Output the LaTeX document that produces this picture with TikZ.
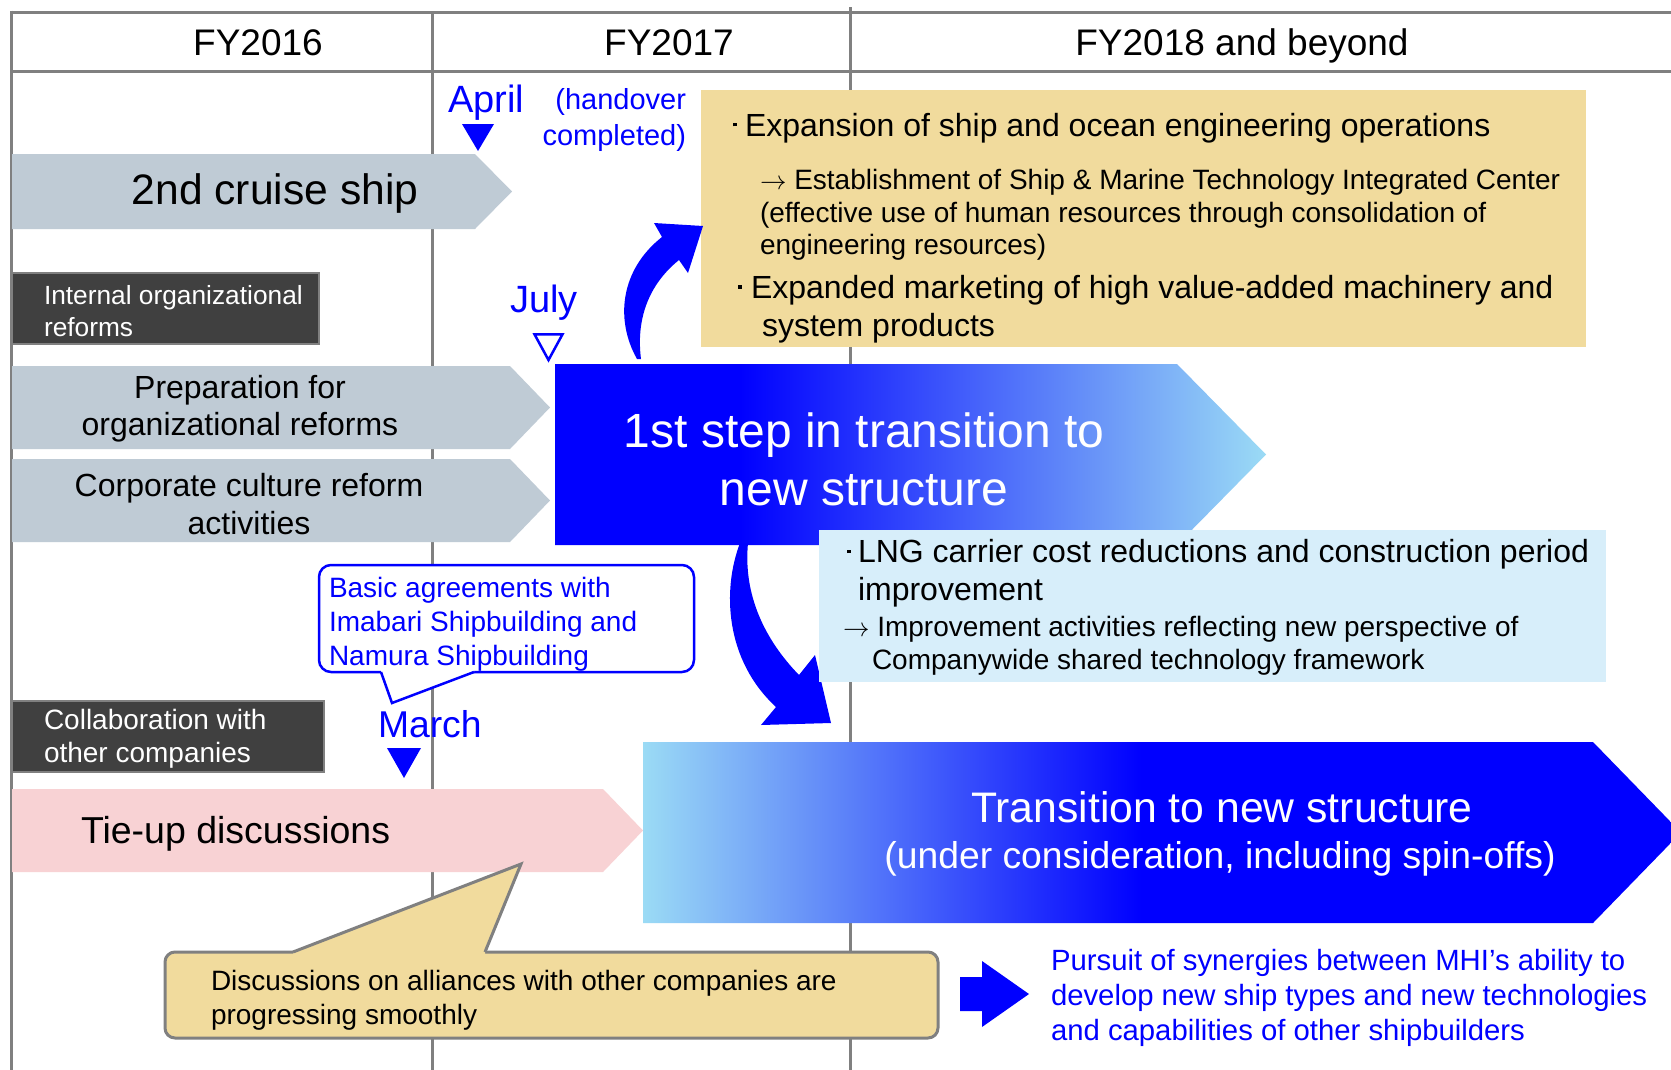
\documentclass[tikz,border=0pt]{standalone}
\usepackage{fontspec}
\setmainfont{Liberation Sans}
\definecolor{gridgray}{HTML}{808080}
\definecolor{graybar}{HTML}{BFCBD5}
\definecolor{boxdark}{HTML}{404040}
\definecolor{sand}{HTML}{F1DB9D}
\definecolor{pinkbar}{HTML}{F8D2D4}
\definecolor{paleblue}{HTML}{D7EEFA}
\definecolor{lb}{HTML}{9BDBF5}
\pgfdeclarehorizontalshading{stepshade}{100bp}{color(0bp)=(blue); color(25bp)=(blue); color(38bp)=(blue); color(75bp)=(lb); color(100bp)=(lb)}
\pgfdeclarehorizontalshading{transshade}{100bp}{color(0bp)=(lb); color(25bp)=(lb); color(49bp)=(blue); color(100bp)=(blue)}
\newcommand{\mysqdot}{\rule[0.3em]{3.5pt}{3.5pt}}
\newcommand{\fsz}[2]{\fontsize{#1}{#2}\selectfont}
\newcommand{\myarr}{\scalebox{2.65}{\fontsize{10}{12}\selectfont$\rightarrow$}}
\begin{document}
\begin{tikzpicture}[x=1pt,y=-1pt,
  tx/.style={inner sep=0pt,outer sep=0pt},
  gridline/.style={draw=gridgray,line width=3pt},
  darkbox/.style={fill=boxdark,draw=gridgray,line width=1.5pt},
  wtxt/.style={tx,text=white},
  btxt/.style={tx,text=blue}]
\useasboundingbox (0,0) rectangle (1671,1069);
\clip (0,0) rectangle (1671,1069);
\fill[white] (0,0) rectangle (1671,1069);
% grid
\draw[gridline] (11,12) -- (1680,12);
\draw[gridline] (11,71) -- (1680,71);
\draw[gridline] (11,10.5) -- (11,1080);
\draw[gridline] (432,12) -- (432,1080);
\draw[gridline] (850,7) -- (850,1080);
% headers
\node[tx,anchor=base,font=\fsz{37}{44}] (hA) at (258,55) {FY2016};
\node[tx,anchor=base,font=\fsz{37}{44}] (hB) at (669,55) {FY2017};
\node[tx,anchor=base,font=\fsz{37}{44}] (hC) at (1242,55) {FY2018 and beyond};
% 2nd cruise ship
\fill[graybar] (12,154) -- (475,154) -- (512,191.5) -- (475,229) -- (12,229) -- cycle;
\node[tx,anchor=base,font=\fsz{42.6}{50}] (cruise) at (275,204) {2nd cruise ship};
% April
\node[btxt,anchor=base west,font=\fsz{38}{45}] (april) at (448,112) {April};
\fill[blue] (462,124) -- (494,124) -- (478,151) -- cycle;
\node[btxt,anchor=east,align=right,font=\fsz{29}{36}] (handover) at (686,120) {(handover\\completed)};
% yellow box
\fill[sand] (701,90) rectangle (1586,347);
\node[tx,anchor=base west,font=\fsz{32}{38}] (ya) at (733,136) {\makebox[12pt][l]{\mysqdot}Expansion of ship and ocean engineering operations};
\node[tx,anchor=west,align=left,font=\fsz{28}{32.5}] (yb) at (760,215) {\myarr{} Establishment of Ship \& Marine Technology Integrated Center\\(effective use of human resources through consolidation of\\engineering resources)};
\node[tx,anchor=west,align=left,font=\fsz{32}{38}] (yc) at (738,309) {\makebox[13pt][l]{\mysqdot}Expanded marketing of high value-added machinery and\\\hspace*{24pt}system products};
% internal org
\draw[darkbox] (12,273) rectangle (319,344);
\node[wtxt,anchor=west,align=left,font=\fsz{26.3}{32}] (intorg) at (44,311.5) {Internal organizational\\reforms};
% July
\node[btxt,anchor=base west,font=\fsz{38}{45}] (july) at (510,312) {July};
\draw[blue,line width=2.5pt,fill=white,line join=miter] (534.5,334.3) -- (562.5,334.3) -- (548.5,360) -- cycle;
% grey bars
\fill[graybar] (12,366) -- (510,366) -- (550,407.5) -- (510,449) -- (12,449) -- cycle;
\node[tx,align=center,font=\fsz{32}{37}] (prep) at (240,408.5) {Preparation for\\organizational reforms};
\fill[graybar] (12,459) -- (510,459) -- (550,500.5) -- (510,542) -- (12,542) -- cycle;
\node[tx,align=center,font=\fsz{32}{38}] (culture) at (249,504.5) {Corporate culture reform\\activities};
% first step
\shade[shading=stepshade] (555,364) -- (1177,364) -- (1266,454.5) -- (1177,545) -- (555,545) -- cycle;
\node[wtxt,align=center,font=\fsz{48}{58}] (step1) at (864,459) {1st step in transition to\\new structure};
% curved arrows
\fill[blue] (637,359) .. controls (615,320) and (620,270) .. (662,237) -- (654,223) -- (703,226) -- (688,273) -- (679,260) .. controls (648,285) and (636,320) .. (641,359) -- cycle;
\fill[blue] (740,543) .. controls (722,590) and (725,660) .. (776,707) -- (761,725) -- (831,723) -- (815,655) -- (799,675) .. controls (765,640) and (743,595) .. (748,543) -- cycle;
% LNG box
\fill[paleblue] (819,530) rectangle (1606,682);
\node[tx,anchor=west,align=left,font=\fsz{32}{38}] (lnga) at (847,573.5) {\makebox[11pt][l]{\mysqdot}LNG carrier cost reductions and construction period\\\hspace*{11pt}improvement};
\node[tx,anchor=west,align=left,font=\fsz{28}{33}] (lngb) at (843,646) {\myarr{} Improvement activities reflecting new perspective of\\\hspace*{29pt}Companywide shared technology framework};
% blue callout
\draw[blue,line width=2.5pt,fill=white,rounded corners=12pt] (319,565) rectangle (694,672);
\fill[white] (381,668) -- (474,668) -- (474,672) -- (392,703) -- (381,672) -- cycle;
\draw[blue,line width=2.5pt] (381,672) -- (392,703) -- (474,672);
\node[btxt,anchor=west,align=left,font=\fsz{28}{34}] (agree) at (329,624) {Basic agreements with\\Imabari Shipbuilding and\\Namura Shipbuilding};
% March
\node[btxt,anchor=base west,font=\fsz{37.3}{44}] (march) at (378,737) {March};
\fill[blue] (387,748) -- (421,748) -- (404,778) -- cycle;
% collaboration box
\draw[darkbox] (12,701) rectangle (324,772);
\node[wtxt,anchor=west,align=left,font=\fsz{28}{33.4}] (collab) at (44,739) {Collaboration with\\other companies};
% pink bar
\fill[pinkbar] (12,789) -- (603,789) -- (643,830.5) -- (603,872) -- (12,872) -- cycle;
\node[tx,anchor=base west,font=\fsz{37.5}{45}] (tieup) at (81,843) {Tie-up discussions};
% transition
\shade[shading=transshade] (643,742) -- (1593,742) -- (1681,832.5) -- (1593,923) -- (643,923) -- cycle;
\node[wtxt,anchor=base,font=\fsz{42.7}{50}] (transA) at (1222,822) {Transition to new structure};
\node[wtxt,anchor=base,font=\fsz{37.3}{45}] (transB) at (1220,868) {(under consideration, including spin-offs)};
% bottom callout
\draw[gridgray,line width=3pt,fill=sand,rounded corners=10pt] (165,952) rectangle (938,1038);
\fill[sand] (293,956) -- (293,952) -- (521,864) -- (485,952) -- (485,956) -- cycle;
\draw[gridgray,line width=3pt] (293,952) -- (521,864) -- (485,952);
\node[tx,anchor=west,align=left,font=\fsz{28}{34}] (alliance) at (211,1000) {Discussions on alliances with other companies are\\progressing smoothly};
% block arrow
\fill[blue] (960,977) -- (982,977) -- (982,961) -- (1029,994) -- (982,1027) -- (982,1011) -- (960,1011) -- cycle;
\node[btxt,anchor=west,align=left,font=\fsz{29.3}{35}] (synergy) at (1051,998) {Pursuit of synergies between MHI’s ability to\\develop new ship types and new technologies\\and capabilities of other shipbuilders};
\end{tikzpicture}
\end{document}
